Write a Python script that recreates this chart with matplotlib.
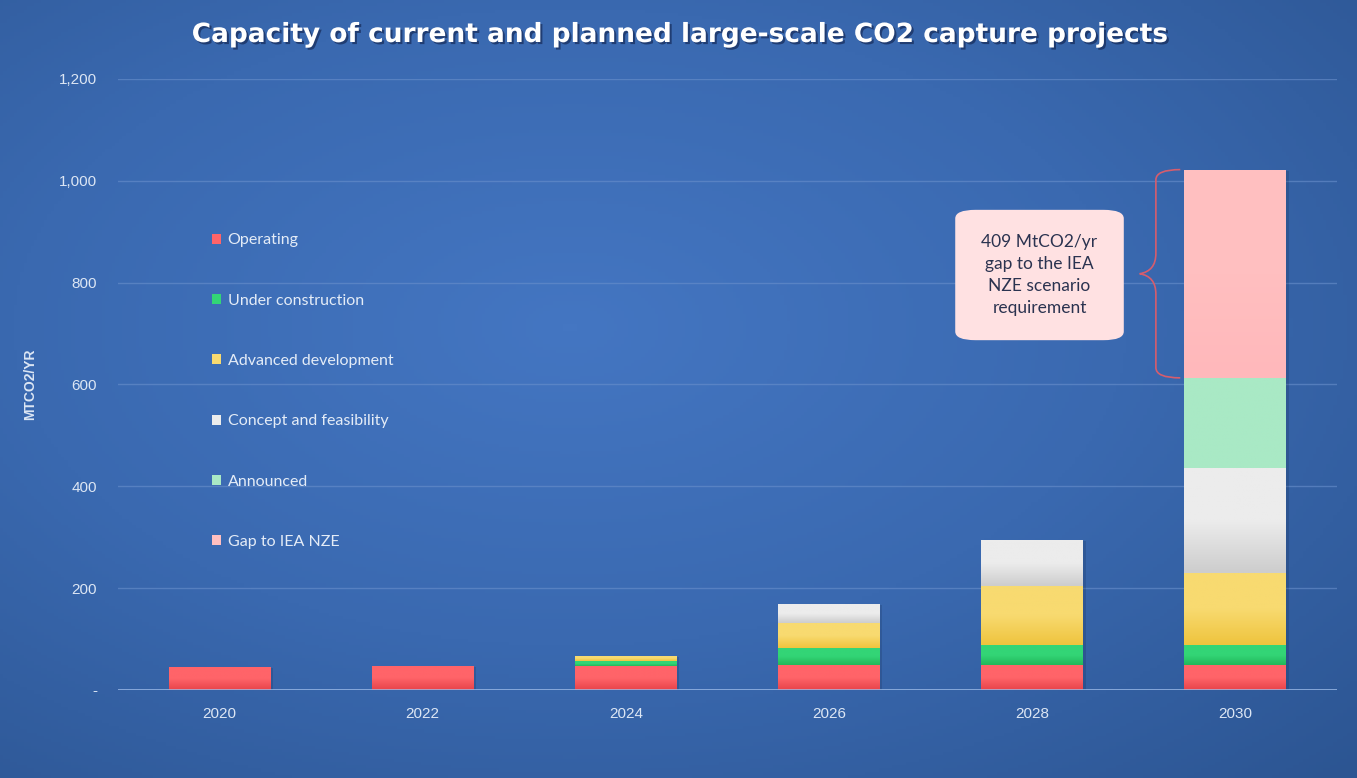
import matplotlib
matplotlib.use("Agg")
import matplotlib.pyplot as plt
import numpy as np
from matplotlib.colors import LinearSegmentedColormap
from matplotlib.patches import FancyBboxPatch, PathPatch, Patch
from matplotlib.path import Path
import matplotlib.patheffects as pe

years = ["2020", "2022", "2024", "2026", "2028", "2030"]
operating = [45, 48, 47, 49, 49, 49]
under_construction = [0, 0, 9, 34, 39, 39]
advanced = [0, 0, 11, 49, 117, 142]
concept = [0, 0, 0, 37, 90, 206]
announced = [0, 0, 0, 0, 0, 177]
gap = [0, 0, 0, 0, 0, 409]

series_names = ["Operating", "Under construction", "Advanced development",
                "Concept and feasibility", "Announced", "Gap to IEA NZE"]
series_values = [operating, under_construction, advanced, concept, announced, gap]
# (top colour, bottom colour) for the vertical shading of each segment
series_colors = [("#ff6469", "#e8444a"), ("#33d576", "#22b85a"),
                 ("#f8da70", "#efc43e"), ("#ececec", "#cdcdcd"),
                 ("#a9e9c5", "#a9e9c5"), ("#ffbfc0", "#ffb8bb")]

yticks = [0, 200, 400, 600, 800, 1000, 1200]
ytick_labels = ["-", "200", "400", "600", "800", "1,000", "1,200"]

fig = plt.figure(figsize=(13.57, 7.78), dpi=100)

# background gradient
bg = fig.add_axes([0, 0, 1, 1], zorder=-5)
gx, gy = np.meshgrid(np.linspace(0, 1, 400), np.linspace(0, 1, 240))
d = np.sqrt(((gx - 0.42) / 0.75) ** 2 + ((gy - 0.42) / 0.75) ** 2)
d = np.clip(d / d.max(), 0, 1)
bg_cmap = LinearSegmentedColormap.from_list("bg", ["#4476c2", "#3a69b0", "#2c5592"])
bg.imshow(d, cmap=bg_cmap, aspect="auto", extent=[0, 1, 0, 1], origin="upper")
bg.axis("off")

ax = fig.add_axes([0.087, 0.1131, 0.898, 0.7854])
ax.set_facecolor("none")
x = np.arange(len(years))
bottom = np.zeros(len(years))
shadow = [pe.SimplePatchShadow(offset=(2, -1), shadow_rgbFace="#102040", alpha=0.18), pe.Normal()]
for name, vals, (ctop, cbot) in zip(series_names, series_values, series_colors):
    vals = np.array(vals, dtype=float)
    bars = ax.bar(x, vals, 0.5, bottom=bottom, color=cbot, label=name, zorder=3,
                  linewidth=0)
    for b in bars:
        if b.get_height() <= 0:
            continue
        b.set_path_effects(shadow)
        cmap = LinearSegmentedColormap.from_list("g", [cbot, ctop, ctop])
        grad = np.linspace(0, 1, 64).reshape(-1, 1)
        im = ax.imshow(grad, cmap=cmap, aspect="auto", origin="lower", zorder=4,
                       extent=[b.get_x(), b.get_x() + b.get_width(),
                               b.get_y(), b.get_y() + b.get_height()])
        im.set_clip_path(b)
    bottom += vals

ax.set_xlim(-0.5, len(years) - 0.5)
ax.set_ylim(0, 1200)
ax.set_xticks(x)
ax.set_xticklabels(years, fontsize=11, color="#dce6f4", family="Liberation Sans")
ax.set_yticks(yticks)
ax.set_yticklabels(ytick_labels, fontsize=11, color="#dce6f4", family="Liberation Sans")
ax.tick_params(length=0, pad=12)
ax.tick_params(axis="y", pad=15)
ax.grid(axis="y", color="#6a90cc", linewidth=1, alpha=0.6, zorder=0)
ax.axhline(0, color="#9dbbe8", linewidth=1.8, zorder=5)
for s in ax.spines.values():
    s.set_visible(False)
ax.set_ylabel("MTCO2/YR", fontsize=10, fontweight="bold", color="#dce6f4",
              family="Liberation Sans")
ax.yaxis.set_label_coords(-0.0665, 0.5)

# legend
handles = [Patch(facecolor=c[0], edgecolor="none") for c in series_colors]
leg = ax.legend(handles, series_names, loc="upper left", bbox_to_anchor=(0.065, 0.771),
                frameon=False, labelspacing=2.9, handlelength=0.6,
                handleheight=0.6, handletextpad=0.4,
                prop={"family": "Lato", "size": 11.5})
for t in leg.get_texts():
    t.set_color("#e4ecf7")

# gap annotation: brace and rounded box
gap_lo = bottom[-1] - gap[-1]
gap_hi = bottom[-1]
mid = (gap_lo + gap_hi) / 2
xe = x[-1] - 0.25 - 0.02
xm = xe - 0.12
xt = xe - 0.2
brace = Path([(xe, gap_hi), (xm, gap_hi), (xm, gap_hi - 20), (xm, gap_hi - 60),
              (xm, mid + 40), (xm, mid + 5), (xt, mid),
              (xm, mid - 5), (xm, mid - 40), (xm, gap_lo + 60),
              (xm, gap_lo + 20), (xm, gap_lo), (xe, gap_lo)],
             [Path.MOVETO, Path.CURVE3, Path.CURVE3, Path.LINETO,
              Path.LINETO, Path.CURVE3, Path.CURVE3,
              Path.CURVE3, Path.CURVE3, Path.LINETO,
              Path.LINETO, Path.CURVE3, Path.CURVE3])
ax.add_patch(PathPatch(brace, facecolor="none", edgecolor="#d65d6d", linewidth=1.2, zorder=6))

bx, by = 4.037, 815
box = FancyBboxPatch((bx - 0.415, by - 128), 0.83, 256,
                     boxstyle="round,pad=0,rounding_size=0.1", mutation_aspect=170,
                     facecolor="#ffe1e2", edgecolor="none", zorder=6)
ax.add_patch(box)
ax.text(bx, by, "409 MtCO2/yr\ngap to the IEA\nNZE scenario\nrequirement", ha="center",
        va="center", fontsize=12.5, color="#2b3350", family="Lato", linespacing=1.45,
        zorder=7)

fig.text(0.501, 0.955, "Capacity of current and planned large-scale CO2 capture projects",
         ha="center", va="center", fontsize=19, fontweight="bold", color="white",
         family="DejaVu Sans",
         path_effects=[pe.withSimplePatchShadow(offset=(1.5, -1.5), shadow_rgbFace="#10204a",
                                                alpha=0.6)])

fig.savefig("out.png", dpi=100)
